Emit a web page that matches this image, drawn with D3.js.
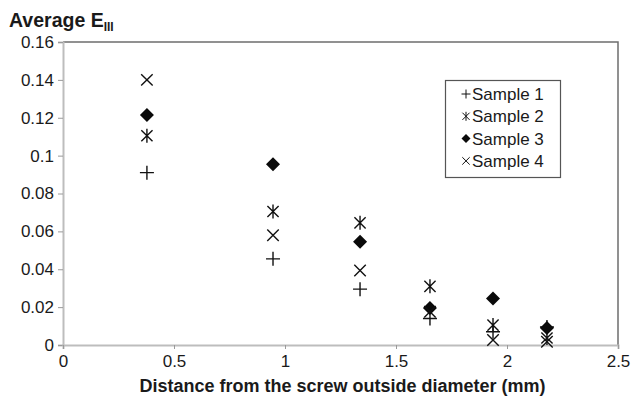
<!DOCTYPE html>
<html>
<head>
<meta charset="utf-8">
<script src="https://cdn.jsdelivr.net/npm/d3@7"></script>
<style>
  html, body { margin: 0; padding: 0; background: #fff; }
  svg text { font-family: "Liberation Sans", Arial, sans-serif; fill: #1a1a1a; }
</style>
</head>
<body>
<svg id="chart" width="632" height="398"></svg>
<script>
// Distance from the screw outside diameter (mm)
const distances = [0.378, 0.946, 1.338, 1.653, 1.937, 2.18];

// Average E_III for each sample
const sample1 = [0.091, 0.0455, 0.0295, 0.014, 0.007, 0.0095];
const sample2 = [0.1105, 0.0705, 0.0645, 0.031, 0.0105, 0.0037];
const sample3 = [0.1215, 0.0955, 0.0545, 0.0195, 0.0245, 0.009];
const sample4 = [0.140, 0.058, 0.0393, 0.0175, 0.0026, 0.0017];

const seriesNames = ["Sample 1", "Sample 2", "Sample 3", "Sample 4"];
const seriesValues = [sample1, sample2, sample3, sample4];
const markerKinds = ["plus", "asterisk", "diamond", "cross"];

const yTicks = [0, 0.02, 0.04, 0.06, 0.08, 0.1, 0.12, 0.14, 0.16];
const xTicks = [0, 0.5, 1, 1.5, 2, 2.5];

const svg = d3.select("#chart");
const plotLeft = 63, plotRight = 618, plotTop = 42, plotBottom = 345;

const x = d3.scaleLinear().domain([0, 2.5]).range([plotLeft, plotRight]);
const y = d3.scaleLinear().domain([0, 0.16]).range([plotBottom, plotTop]);

// plot area border (top and right)
svg.append("path")
  .attr("d", `M${plotLeft},${plotTop}H${plotRight}V${plotBottom}`)
  .attr("fill", "none").attr("stroke", "#6e6e6e").attr("stroke-width", 1.5);

// y axis
const yAxis = svg.append("g").attr("transform", `translate(${plotLeft},0)`)
  .call(d3.axisLeft(y).tickValues(yTicks).tickSize(5).tickPadding(4)
    .tickFormat(d => String(+d.toFixed(2))));
// x axis
const xAxis = svg.append("g").attr("transform", `translate(0,${plotBottom})`)
  .call(d3.axisBottom(x).tickValues(xTicks).tickSize(4).tickPadding(6)
    .tickFormat(d => String(d)));

[yAxis, xAxis].forEach(g => {
  g.select(".domain").attr("stroke", "#bdbdbd").attr("stroke-width", 2);
  g.selectAll(".tick line").attr("stroke", "#9a9a9a");
  g.selectAll(".tick text").attr("font-size", 17)
    .attr("font-family", "'Liberation Sans', Arial, sans-serif").attr("fill", "#1a1a1a");
});

// marker shapes
function marker(g, kind, s) {
  const h = s / 2;
  if (kind === "plus") {
    g.append("path").attr("d", `M${-h},0H${h}M0,${-h}V${h}`)
      .attr("stroke", "#111").attr("stroke-width", 1.4).attr("fill", "none");
  } else if (kind === "cross") {
    const c = h * 0.82;
    g.append("path").attr("d", `M${-c},${-c}L${c},${c}M${-c},${c}L${c},${-c}`)
      .attr("stroke", "#111").attr("stroke-width", 1.4).attr("fill", "none");
  } else if (kind === "asterisk") {
    const c = h * 0.8;
    g.append("path").attr("d", `M${-c},${-c}L${c},${c}M${-c},${c}L${c},${-c}M0,${-h}V${h}`)
      .attr("stroke", "#111").attr("stroke-width", 1.4).attr("fill", "none");
  } else if (kind === "diamond") {
    g.append("path").attr("d", `M0,${-h}L${h},0L0,${h}L${-h},0Z`)
      .attr("fill", "#0a0a0a");
  }
}

seriesValues.forEach((vals, si) => {
  const g = svg.append("g");
  vals.forEach((v, i) => {
    const m = g.append("g").attr("transform", `translate(${x(distances[i])},${y(v)})`);
    marker(m, markerKinds[si], 14);
  });
});

// legend
const lg = svg.append("g");
lg.append("rect").attr("x", 445.5).attr("y", 80.5).attr("width", 115).attr("height", 97)
  .attr("fill", "#fff").attr("stroke", "#555").attr("stroke-width", 1.2);
seriesNames.forEach((name, i) => {
  const cy = 94 + i * 22.3;
  const m = lg.append("g").attr("transform", `translate(466,${cy})`);
  marker(m, markerKinds[i], 9);
  m.selectAll("path").attr("stroke-width", 1);
  lg.append("text").attr("x", 472).attr("y", cy + 6).attr("font-size", 17).text(name);
});

// titles
const t = svg.append("text").attr("x", 9).attr("y", 27)
  .attr("font-size", 19.5).attr("font-weight", "bold");
t.append("tspan").text("Average E");
t.append("tspan").attr("font-size", 12).attr("dy", 4).text("III");

svg.append("text").attr("x", (plotLeft + plotRight) / 2 + 2).attr("y", 392)
  .attr("text-anchor", "middle").attr("font-size", 18).attr("font-weight", "bold")
  .text("Distance from the screw outside diameter (mm)");
</script>
</body>
</html>
